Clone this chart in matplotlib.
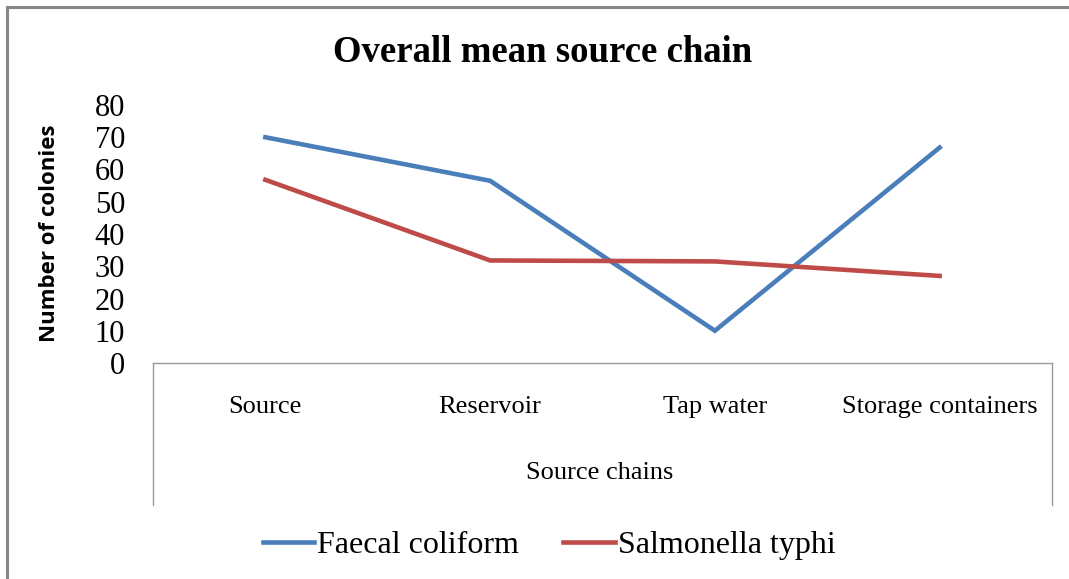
import matplotlib
matplotlib.use('Agg')
import matplotlib.pyplot as plt
from matplotlib.lines import Line2D

# --- Data ---
categories = ["Source", "Reservoir", "Tap water", "Storage containers"]
faecal_coliform = [70, 56.5, 10, 66.8]
salmonella_typhi = [56.8, 31.8, 31.5, 27]
y_ticks = [0, 10, 20, 30, 40, 50, 60, 70, 80]

W, H = 1069, 579
SERIF = "Liberation Serif"
BLUE = "#4A7EBB"
RED = "#BE4B48"


def fx(px):
    return px / W


def fy(py):
    return 1 - py / H


fig = plt.figure(figsize=(W / 100, H / 100), dpi=100)

# plot area (Excel style: categories centred in bins)
ax = fig.add_axes([fx(153), fy(363), fx(1052) - fx(153), fy(105) - fy(363)])
x = list(range(len(categories)))
ax.plot(x, faecal_coliform, color=BLUE, lw=3.3, label="Faecal coliform", solid_joinstyle='miter')
ax.plot(x, salmonella_typhi, color=RED, lw=3.3, label="Salmonella typhi", solid_joinstyle='miter')
ax.set_xlim(-0.5, len(categories) - 0.5)
ax.set_ylim(0, 80)
ax.set_yticks(y_ticks)
ax.set_yticklabels([str(v) for v in y_ticks], fontfamily=SERIF, fontsize=22)
ax.set_xticks(x)
ax.set_xticklabels(categories, fontfamily=SERIF, fontsize=19)
ax.tick_params(axis='y', length=0, pad=20)
ax.tick_params(axis='x', length=0, pad=24)
for s in ax.spines.values():
    s.set_visible(False)
ax.patch.set_alpha(0)

ax.set_ylabel("Number of colonies", fontfamily="Open Sans", fontweight='bold', fontsize=16)
ax.yaxis.set_label_coords(-0.103, 0.504)
ax.set_xlabel("Source chains", fontfamily=SERIF, fontsize=19)
ax.xaxis.set_label_coords(0.497, -0.426)
ax.xaxis.label.set_verticalalignment('center')

# box around category labels
box_col = "#9a9a9a"
for xs, ys in [([153, 1052], [363, 363]), ([153, 153], [363, 505]), ([1052, 1052], [363, 505])]:
    fig.add_artist(Line2D([fx(v) for v in xs], [fy(v) for v in ys], color=box_col, lw=1.0))

# outer chart border (top and left only visible)
border_col = "#878787"
fig.add_artist(Line2D([fx(7), fx(1069)], [fy(7), fy(7)], color=border_col, lw=2.2))
fig.add_artist(Line2D([fx(7), fx(7)], [fy(7), fy(579)], color=border_col, lw=2.2))

fig.text(fx(543), fy(52), "Overall mean source chain", fontfamily=SERIF, fontweight='bold',
         fontsize=26.5, ha='center', va='center')

fig.legend(loc='center', bbox_to_anchor=(fx(549), fy(545)), ncol=2, frameon=False,
           prop={'family': SERIF, 'size': 23}, handlelength=1.6, handletextpad=0.1,
           columnspacing=1.4)

plt.savefig("out.png", dpi=100)
